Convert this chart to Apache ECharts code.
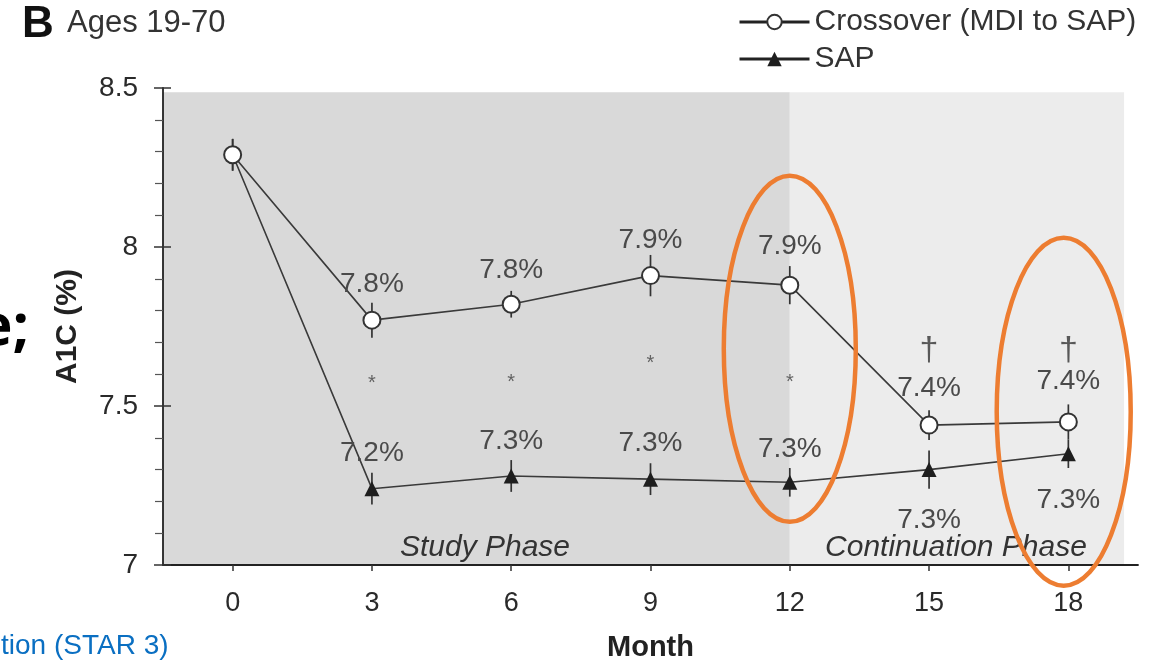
<!DOCTYPE html>
<html><head><meta charset="utf-8">
<script src="https://cdn.jsdelivr.net/npm/echarts@6/dist/echarts.min.js"></script>
<style>html,body{margin:0;padding:0;background:#fff}#c{width:1157px;height:660px}</style>
</head><body><div id="c"></div>
<script>
// ---- data ----
const months = [0, 3, 6, 9, 12, 15, 18];
const crossover = [8.29, 7.77, 7.82, 7.91, 7.88, 7.44, 7.45];
const crossoverErr = [0.05, 0.055, 0.042, 0.065, 0.06, 0.047, 0.055];
const sap = [8.29, 7.24, 7.28, 7.27, 7.26, 7.30, 7.35];
const sapErr = [0.05, 0.05, 0.05, 0.05, 0.045, 0.06, 0.045];
const crossoverLabels = ['', '7.8%', '7.8%', '7.9%', '7.9%', '7.4%', '7.4%'];
const sapLabels = ['', '7.2%', '7.3%', '7.3%', '7.3%', '7.3%', '7.3%'];
const yTicks = [7, 7.5, 8, 8.5];
const starMonths = [3, 6, 9, 12];
const daggerMonths = [15, 18];
const seriesNames = ['Crossover (MDI to SAP)', 'SAP'];

// ---- annotation placement (not data) ----
const starLevels = [7.57, 7.575, 7.635, 7.575];
const daggerLevel = 7.675;
const crossLabelGap = [0, 12, 10, 12, 15, 13, 17];
const sapLabelGap = [0, 14, 13, 14, 12, 29, 25];
const sapLabelBelow = [false, false, false, false, false, true, true];

const FONT = '"Liberation Sans", Arial, Helvetica, sans-serif';

const chart = echarts.init(document.getElementById('c'), null, {renderer: 'canvas'});

function errSeries(vals, errs) {
  return {
    type: 'custom', silent: true, z: 1,
    data: months.map((m, i) => [m, vals[i], errs[i]]),
    renderItem: (params, api) => {
      const x = api.value(0), y = api.value(1), e = api.value(2);
      const p1 = api.coord([x, y + e]), p2 = api.coord([x, y - e]);
      return {type: 'line', shape: {x1: p1[0], y1: p1[1], x2: p2[0], y2: p2[1]},
        style: {stroke: '#333', lineWidth: 1.7}};
    }
  };
}

const labelStyle = {color: '#4a4a4a', fontSize: 28, fontFamily: FONT};
const yCommon = {type: 'value', min: 7, max: 8.5, interval: 0.5, splitLine: {show: false}, z: 10};

const option = {
  animation: false,
  backgroundColor: '#fff',
  grid: {left: 163, right: 19, top: 88, bottom: 95, containLabel: false, outerBoundsMode: 'none'},
  legend: {
    data: seriesNames,
    orient: 'vertical', left: 733, top: 2,
    itemWidth: 70, itemHeight: 18, itemGap: 7,
    lineStyle: {width: 3, color: '#222'},
    textStyle: {fontSize: 30, color: '#333', fontFamily: FONT}
  },
  xAxis: {
    type: 'value', min: -1.5, max: 19.5, z: 10,
    name: 'Month', nameLocation: 'middle', nameGap: 68,
    nameTextStyle: {fontSize: 29, fontWeight: 'bold', color: '#222', fontFamily: FONT},
    axisLine: {onZero: false, lineStyle: {color: '#222', width: 1.8}},
    axisTick: {show: true, customValues: months, length: 6, lineStyle: {color: '#333', width: 1.5}},
    axisLabel: {customValues: months, margin: 25, fontSize: 27, color: '#2a2a2a', fontFamily: FONT},
    splitLine: {show: false}
  },
  yAxis: [
    Object.assign({}, yCommon, {
      name: 'A1C (%)', nameLocation: 'middle', nameGap: 80, nameRotate: 90,
      nameTextStyle: {fontSize: 30, fontWeight: 'bold', color: '#222', fontFamily: FONT},
      axisLine: {show: true, onZero: false, lineStyle: {color: '#222', width: 1.8}},
      axisTick: {show: true, inside: true, length: 8, lineStyle: {color: '#333', width: 1.5}},
      minorTick: {show: true, splitNumber: 5, length: -8, lineStyle: {color: '#555', width: 1.2}},
      axisLabel: {margin: 25, fontSize: 28, color: '#2a2a2a', fontFamily: FONT,
        formatter: v => yTicks.indexOf(v) >= 0 ? String(v) : ''}
    }),
    Object.assign({}, yCommon, {
      position: 'left', offset: 0,
      axisLine: {show: false, onZero: false},
      axisTick: {show: true, inside: false, length: 9, lineStyle: {color: '#333', width: 1.5}},
      axisLabel: {show: false}
    })
  ],
  series: [
    {
      name: seriesNames[0], type: 'line', z: 4,
      data: months.map((m, i) => ({
        value: [m, crossover[i]],
        label: {show: crossoverLabels[i] !== '', position: 'top', distance: crossLabelGap[i],
          formatter: crossoverLabels[i], ...labelStyle}
      })),
      symbol: 'emptyCircle', symbolSize: 17,
      lineStyle: {color: '#3a3a3a', width: 1.6},
      itemStyle: {color: '#333', borderColor: '#333', borderWidth: 1.6},
      markArea: {
        silent: true,
        data: [
          [{xAxis: -1.5, yAxis: 7, itemStyle: {color: '#d9d9d9'}}, {xAxis: 12, yAxis: 8.487}],
          [{xAxis: 12, yAxis: 7, itemStyle: {color: '#ececec'}}, {xAxis: 19.2, yAxis: 8.487}]
        ]
      }
    },
    {
      name: seriesNames[1], type: 'line', z: 3,
      data: months.map((m, i) => ({
        value: [m, sap[i]],
        symbol: i === 0 ? 'none' : 'triangle',
        label: {show: sapLabels[i] !== '', position: sapLabelBelow[i] ? 'bottom' : 'top',
          distance: sapLabelGap[i], formatter: sapLabels[i], ...labelStyle}
      })),
      symbol: 'triangle', symbolSize: 15,
      lineStyle: {color: '#3a3a3a', width: 1.6},
      itemStyle: {color: '#1e1e1e'}
    },
    errSeries(crossover, crossoverErr),
    errSeries(sap, sapErr),
    {
      type: 'scatter', silent: true, z: 5, symbolSize: 1, itemStyle: {color: 'rgba(0,0,0,0)'},
      data: starMonths.map((m, i) => [m, starLevels[i]]),
      label: {show: true, position: 'inside', formatter: '*', fontSize: 20, color: '#444', fontFamily: FONT}
    },
    {
      type: 'scatter', silent: true, z: 5, symbolSize: 1, itemStyle: {color: 'rgba(0,0,0,0)'},
      data: daggerMonths.map(m => [m, daggerLevel]),
      label: {show: true, position: 'inside', formatter: '\u2020', fontSize: 34, color: '#333', fontFamily: FONT}
    }
  ],
  graphic: [
    {id: 'tB', type: 'text', left: 22, top: 3, style: {text: 'B', font: 'bold 44px ' + FONT, fill: '#111'}},
    {id: 'tAges', type: 'text', left: 67, top: 8, style: {text: 'Ages 19-70', font: '31px ' + FONT, fill: '#333'}},
    {id: 'tStudy', type: 'text', x: 485, y: 548, z: 10, style: {text: 'Study Phase', font: 'italic 30px ' + FONT, fill: '#333', align: 'center', verticalAlign: 'middle'}},
    {id: 'tCont', type: 'text', x: 956, y: 548, z: 10, style: {text: 'Continuation Phase', font: 'italic 30px ' + FONT, fill: '#333', align: 'center', verticalAlign: 'middle'}},
    {id: 'tE', type: 'text', x: 29, y: 328, z: 10, style: {text: 'e;', font: 'bold 58px "Open Sans", "Noto Sans", sans-serif', fill: '#000', align: 'right', verticalAlign: 'middle'}},
    {id: 'tStar', type: 'text', x: 1, y: 646, z: 10, style: {text: 'tion (STAR 3)', font: '28px ' + FONT, fill: '#0a6fc2', align: 'left', verticalAlign: 'middle'}}
  ]
};
chart.setOption(option);

// orange highlight ellipses anchored to the grid
const c1 = chart.convertToPixel({gridIndex: 0}, [12, 7.68]);
const c2 = chart.convertToPixel({gridIndex: 0}, [17.9, 7.482]);
chart.setOption({
  graphic: [
    {id: 'ell1', type: 'ellipse', z: 20, silent: true, shape: {cx: c1[0], cy: c1[1], rx: 66, ry: 173},
      style: {fill: 'none', stroke: '#ed7d31', lineWidth: 4.5}},
    {id: 'ell2', type: 'ellipse', z: 20, silent: true, shape: {cx: c2[0], cy: c2[1], rx: 67, ry: 174},
      style: {fill: 'none', stroke: '#ed7d31', lineWidth: 4.5}}
  ]
});
</script>
</body></html>
